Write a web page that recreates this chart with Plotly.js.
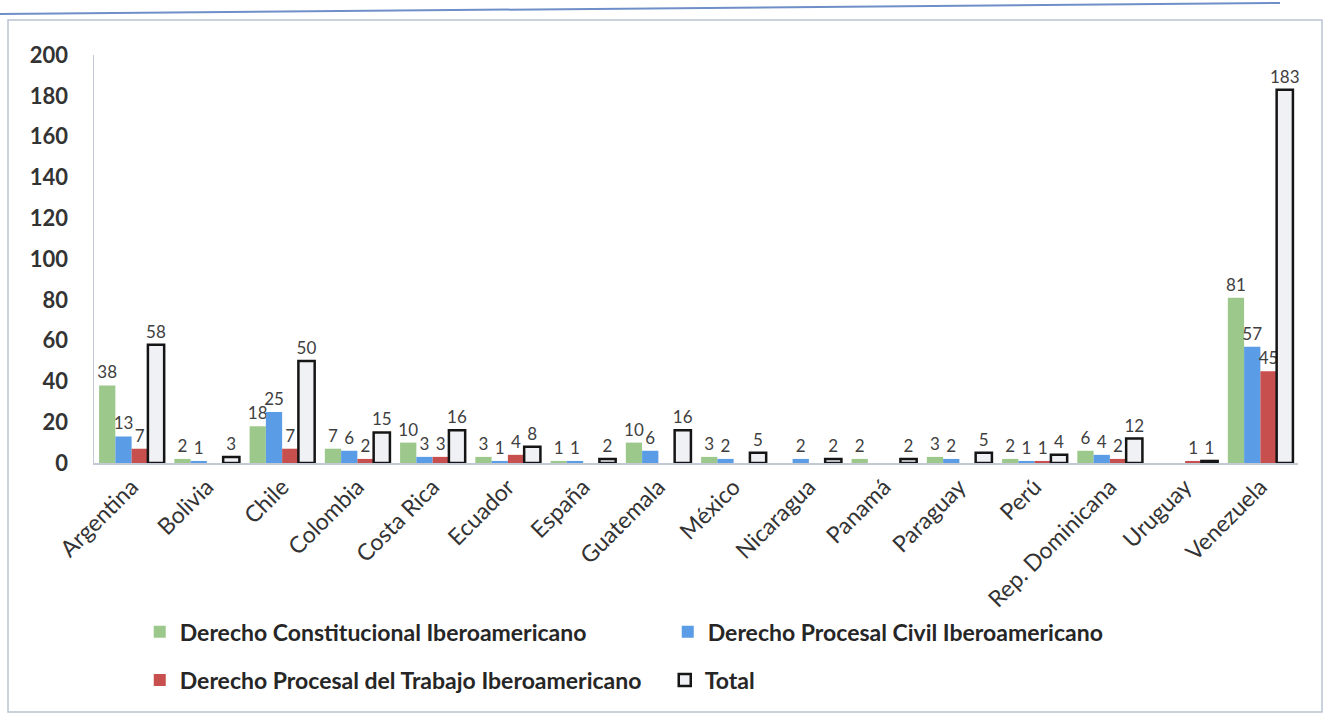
<!DOCTYPE html>
<html>
<head>
<meta charset="utf-8">
<script src="https://cdn.plot.ly/plotly-3.0.1.min.js"></script>
<style>html,body{margin:0;padding:0;background:#fff;}#chart{width:1329px;height:718px;}</style>
</head>
<body>
<div id="chart"></div>
<script>
const countries = ["Argentina","Bolivia","Chile","Colombia","Costa Rica","Ecuador","España","Guatemala","México","Nicaragua","Panamá","Paraguay","Perú","Rep. Dominicana","Uruguay","Venezuela"];
const constitucional = [38, 2, 18, 7, 10, 3, 1, 10, 3, null, 2, 3, 2, 6, null, 81];
const procesalCivil  = [13, 1, 25, 6, 3, 1, 1, 6, 2, 2, null, 2, 1, 4, null, 57];
const procesalTrabajo = [7, null, 7, 2, 3, 4, null, null, null, null, null, null, 1, 2, 1, 45];
const total = [58, 3, 50, 15, 16, 8, 2, 16, 5, 2, 2, 5, 4, 12, 1, 183];
const seriesNames = ["Derecho Constitucional Iberoamericano","Derecho Procesal Civil Iberoamericano","Derecho Procesal del Trabajo Iberoamericano","Total"];

const FONT = "Lato, 'Open Sans', sans-serif";
const labelFont = {family: FONT, size: 17, color: "#404040"};

function barTrace(name, vals, color, legend, line) {
  return {
    type: "bar", name: name, x: countries, y: vals,
    text: vals.map(v => v == null ? "" : String(v)),
    textposition: "outside", cliponaxis: false, constraintext: "none",
    textfont: labelFont,
    marker: {color: color, line: line || {width: 0}},
    legend: legend, hoverinfo: "x+y"
  };
}

const data = [
  barTrace(seriesNames[0], constitucional, "#9dc88b", "legend"),
  barTrace(seriesNames[1], procesalCivil, "#5a9de6", "legend"),
  barTrace(seriesNames[2], procesalTrabajo, "#c7504e", "legend2"),
  barTrace(seriesNames[3], total, "#eff1f4", "legend2", {color: "#151515", width: 2.5})
];

const legendFont = {family: FONT, size: 23, color: "#262626", weight: "bold"};

const layout = {
  width: 1329, height: 718,
  margin: {l: 94, r: 31, t: 55, b: 255},
  paper_bgcolor: "#ffffff", plot_bgcolor: "#ffffff",
  barmode: "group", bargap: 0.135, bargroupgap: 0,
  font: {family: FONT},
  xaxis: {
    type: "category", range: [-0.5, 15.5],
    tickangle: -45, showgrid: false, zeroline: false,
    showline: true, linecolor: "#c3cad6", linewidth: 1.5,
    ticks: "", tickfont: {family: FONT, size: 23, color: "#333333"}
  },
  yaxis: {
    range: [0, 200], dtick: 20, tick0: 0,
    showgrid: false, zeroline: false,
    showline: true, linecolor: "#c3cad6", linewidth: 1.5,
    ticks: "", ticklabelstandoff: 20,
    tickfont: {family: FONT, size: 22, color: "#333333", weight: "bold"}
  },
  showlegend: true,
  legend: {
    orientation: "h", x: 0.038, xanchor: "left", y: -0.414, yanchor: "middle",
    font: legendFont, entrywidth: 483, entrywidthmode: "pixels",
    bgcolor: "rgba(0,0,0,0)", traceorder: "normal"
  },
  legend2: {
    orientation: "h", x: 0.038, xanchor: "left", y: -0.532, yanchor: "middle",
    font: legendFont, entrywidth: 480, entrywidthmode: "pixels",
    bgcolor: "rgba(0,0,0,0)", traceorder: "normal"
  },
  shapes: [
    {type: "rect", xref: "paper", yref: "paper",
     x0: (8 - 94) / 1204, x1: (1322 - 94) / 1204,
     y0: (463 - 712) / 408, y1: (463 - 20) / 408,
     line: {color: "#b9c3d3", width: 1.5}, fillcolor: "rgba(0,0,0,0)", layer: "below"},
    {type: "line", xref: "paper", yref: "paper",
     x0: (0 - 94) / 1204, x1: (1280 - 94) / 1204,
     y0: (463 - 14) / 408, y1: (463 - 3) / 408,
     line: {color: "#6f8fc9", width: 2}}
  ]
};

Plotly.newPlot("chart", data, layout, {displayModeBar: false, staticPlot: true});
</script>
</body>
</html>
